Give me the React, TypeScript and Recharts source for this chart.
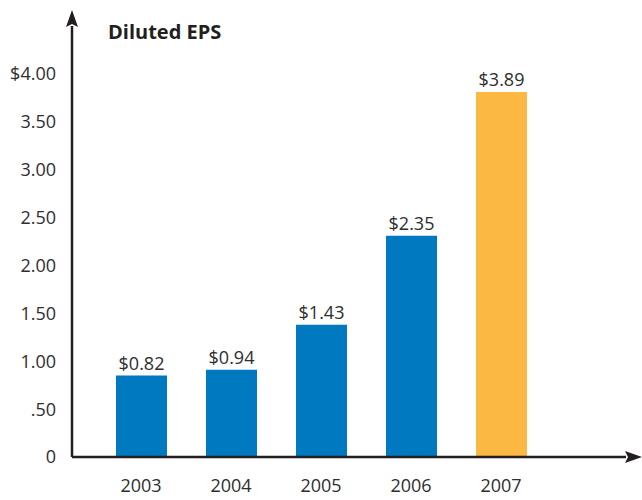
import { Bar, BarChart, Cell, LabelList, XAxis, YAxis } from "recharts";

const years = ["2003", "2004", "2005", "2006", "2007"];
// bar heights as drawn in the picture
const epsValues = [0.85, 0.91, 1.38, 2.31, 3.81];
// printed labels above the bars
const epsLabels = ["$0.82", "$0.94", "$1.43", "$2.35", "$3.89"];
const yTicks = [0, 0.5, 1, 1.5, 2, 2.5, 3, 3.5, 4];
const yTickLabels = ["0", ".50", "1.00", "1.50", "2.00", "2.50", "3.00", "3.50", "$4.00"];
const highlightYear = "2007";

const data = years.map((year, i) => ({
  year,
  eps: epsValues[i],
  label: epsLabels[i],
}));

const FONT = "'Open Sans', 'DejaVu Sans', sans-serif";
const INK = "#231f20";
const TEXT = "#2e2e2e";

export default function App() {
  return (
    <div style={{ position: "absolute", left: 0, top: 0, background: "#fff" }}>
      <BarChart
        width={642}
        height={500}
        data={data}
        margin={{ top: 26, right: 16, bottom: 0, left: 0 }}
        style={{ fontFamily: FONT }}
      >
        <defs>
          <marker
            id="axisArrow"
            viewBox="0 0 17 12"
            refX="1"
            refY="6"
            markerWidth="17"
            markerHeight="12"
            markerUnits="userSpaceOnUse"
            orient="auto-start-reverse"
          >
            <path d="M0,0 L17,6 L0,12 L3,6 z" fill={INK} />
          </marker>
        </defs>
        <text
          x={108}
          y={39}
          fontFamily={FONT}
          fontWeight={700}
          fontSize={20}
          fill={INK}
        >
          Diluted EPS
        </text>
        <XAxis
          dataKey="year"
          height={43}
          tickLine={false}
          tickSize={0}
          tickMargin={22}
          padding={{ left: 24, right: 80 }}
          axisLine={{ stroke: INK, strokeWidth: 2.5, markerEnd: "url(#axisArrow)" }}
          tick={{ fill: TEXT, fontSize: 18, fontFamily: FONT }}
        />
        <YAxis
          width={72}
          domain={[0, 4.5]}
          ticks={yTicks}
          interval={0}
          tickLine={false}
          tickSize={0}
          tickMargin={16}
          tickFormatter={(v: number) => yTickLabels[yTicks.indexOf(v)]}
          axisLine={{ stroke: INK, strokeWidth: 2.5, markerStart: "url(#axisArrow)" }}
          tick={{ fill: TEXT, fontSize: 18, fontFamily: FONT }}
        />
        <Bar dataKey="eps" barSize={51} isAnimationActive={false}>
          {data.map((d) => (
            <Cell key={d.year} fill={d.year === highlightYear ? "#FBB842" : "#0079C1"} />
          ))}
          <LabelList
            dataKey="label"
            position="top"
            offset={6}
            fill={TEXT}
            fontSize={18}
            fontFamily={FONT}
          />
        </Bar>
      </BarChart>
    </div>
  );
}
